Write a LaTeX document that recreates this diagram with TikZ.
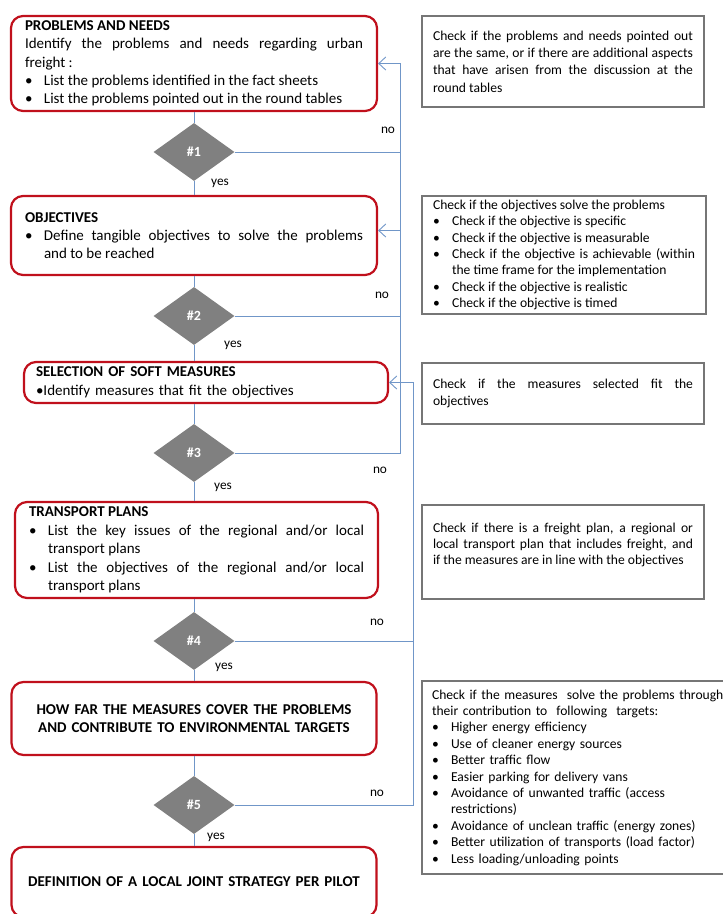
\documentclass[tikz,border=0pt]{standalone}
\usepackage{fontspec}
\setmainfont{Carlito}
\usetikzlibrary{shapes.geometric,arrows.meta}

\definecolor{stepred}{RGB}{192,16,28}
\definecolor{checkgray}{RGB}{118,118,118}
\definecolor{diagray}{RGB}{128,128,128}
\definecolor{flowblue}{RGB}{112,150,200}

\newlength\bulind
\setlength\bulind{19pt}
\newcommand{\bul}[1]{\par\hangindent=\bulind\hangafter=1\noindent\makebox[\bulind][l]{\textbullet}#1}

\begin{document}
\begin{tikzpicture}[
    x=1pt, y=-1pt,
    stepbox/.style={
        draw=stepred,
        line width=2.2pt,
        rounded corners=12pt,
        fill=white,
        inner xsep=14pt,
        inner ysep=0pt,
        font=\fontsize{15}{18.3}\selectfont
    },
    checkbox/.style={
        draw=checkgray,
        line width=2pt,
        fill=white,
        inner xsep=11pt,
        inner ysep=0pt,
        align=justify,
        font=\fontsize{13.6}{16.4}\selectfont
    },
    decision/.style={
        diamond,
        fill=diagray,
        text=white,
        inner sep=0pt,
        minimum width=81pt,
        minimum height=58pt,
        font=\bfseries\fontsize{14}{16}\selectfont
    },
    answer/.style={
        inner sep=0pt,
        font=\fontsize{13.3}{16}\selectfont
    },
    flow/.style={
        draw=flowblue,
        line width=0.9pt
    },
    arrow/.style={
        flow,
        ->,
        >={Straight Barb[length=7pt,width=13pt]}
    }
]

\clip (0,0) rectangle (723,914);

% main steps
\node[stepbox, minimum width=366pt, minimum height=95pt, text width=338pt, align=justify] (prob) at (194,63.5)
{
    \textbf{PROBLEMS AND NEEDS}\par
    Identify the problems and needs regarding urban\linebreak freight :
    \bul{List the problems identified in the fact sheets}
    \bul{List the problems pointed out in the round tables}\par
};

\node[stepbox, minimum width=365pt, minimum height=79pt, text width=338pt, align=justify] (obj) at (194,235.5)
{
    \textbf{OBJECTIVES}
    \bul{Define tangible objectives to solve the problems\linebreak and to be reached}\par
};

\node[stepbox, minimum width=364pt, minimum height=41pt, inner xsep=12pt, text width=340pt, align=left] (sel) at (206,382.5)
{
    \textbf{SELECTION OF SOFT MEASURES}\par
    \textbullet Identify measures that fit the objectives
};

\node[stepbox, minimum width=363pt, minimum height=96pt, text width=335pt, align=justify, font=\fontsize{15}{18.5}\selectfont] (trans) at (196.5,550)
{
    \textbf{TRANSPORT PLANS}
    \bul{List the key issues of the regional and/or local\linebreak transport plans}
    \bul{List the objectives of the regional and/or local\linebreak transport plans}\par
};

\node[stepbox, minimum width=365pt, minimum height=73pt, text width=337pt, align=center] (howfar) at (194,718.5)
{
    \textbf{HOW FAR THE MEASURES COVER THE PROBLEMS}\\
    \textbf{AND CONTRIBUTE TO ENVIRONMENTAL TARGETS}
};

\node[stepbox, minimum width=365pt, minimum height=70pt, text width=337pt, align=center] (defn) at (194,882)
{
    \textbf{DEFINITION OF A LOCAL JOINT STRATEGY PER PILOT}
};

% checks
\node[checkbox, minimum width=282pt, minimum height=91pt, text width=260pt, font=\fontsize{13.6}{17.3}\selectfont] (chk1) at (563,61.5)
{
    Check if the problems and needs pointed out\linebreak
    are the same, or if there are additional aspects\linebreak
    that have arisen from the discussion at the\linebreak
    round tables
};

\node[checkbox, minimum width=284pt, minimum height=118pt, text width=262pt] (chk2) at (564,255)
{
    Check if the objectives solve the problems
    \bul{Check if the objective is specific}
    \bul{Check if the objective is measurable}
    \bul{Check if the objective is achievable (within\linebreak the time frame for the implementation}
    \bul{Check if the objective is realistic}
    \bul{Check if the objective is timed}\par
};

\node[checkbox, minimum width=282pt, minimum height=61pt, text width=260pt] (chk3) at (563,393.5)
{
    Check if the measures selected fit the\linebreak
    objectives
};

\node[checkbox, minimum width=282pt, minimum height=94pt, text width=260pt] (chk4) at (563,552)
{
    Check if there is a freight plan, a regional or\linebreak
    local transport plan that includes freight, and\linebreak
    if the measures are in line with the objectives\par
    \mbox{}
};

\node[checkbox, minimum width=314pt, minimum height=193pt, inner xsep=10pt, text width=294pt, align=left] (chk5) at (579,777.5)
{
    Check if the measures \ solve the problems through\newline
    their contribution to \ following \ targets:
    \bul{Higher energy efficiency}
    \bul{Use of cleaner energy sources}
    \bul{Better traffic flow}
    \bul{Easier parking for delivery vans}
    \bul{Avoidance of unwanted traffic (access\newline restrictions)}
    \bul{Avoidance of unclean traffic (energy zones)}
    \bul{Better utilization of transports (load factor)}
    \bul{Less loading/unloading points}\par
};

% decisions
\node[decision] (d1) at (194,152) {\#1};
\node[decision] (d2) at (194,316) {\#2};
\node[decision] (d3) at (194,453) {\#3};
\node[decision] (d4) at (194,641) {\#4};
\node[decision] (d5) at (194,805) {\#5};

\node[answer] (yes1) at (220,183) {yes};
\node[answer] (yes2) at (233,345) {yes};
\node[answer] (yes3) at (223,487) {yes};
\node[answer] (yes4) at (224,667) {yes};
\node[answer] (yes5) at (216,837) {yes};

\node[answer] (no1) at (388,130) {no};
\node[answer] (no2) at (382,295) {no};
\node[answer] (no3) at (380,470) {no};
\node[answer] (no4) at (377,622) {no};
\node[answer] (no5) at (377,793) {no};

\coordinate (backA) at (400,0);
\coordinate (backB) at (413,0);

% main flow
\draw[flow] (prob) -- (d1);
\draw[flow] (d1) -- (obj);
\draw[flow] (obj) -- (d2);
\draw[flow] (d2) -- (d2 |- sel.north);
\draw[flow] (sel.south -| d3) -- (d3);
\draw[flow] (d3) -- (d3 |- trans.north);
\draw[flow] (trans.south -| d4) -- (d4);
\draw[flow] (d4) -- (howfar);
\draw[flow] (howfar) -- (d5);
\draw[flow] (d5) -- (defn);

% feedback
\draw[flow] (d1.east) -- (d1.east -| backA);
\draw[flow] (d2.east) -- (d2.east -| backA);
\draw[arrow] (d3.east) -- (d3.east -| backA) -- (prob.east -| backA) -- (prob.east);
\draw[arrow] ([yshift=5pt]obj.east -| backA) -- ([yshift=5pt]obj.east);

\draw[flow] (d4.east) -- (d4.east -| backB);
\draw[arrow] (d5.east) -- (d5.east -| backB) -- (sel.east -| backB) -- (sel.east);

\end{tikzpicture}
\end{document}
